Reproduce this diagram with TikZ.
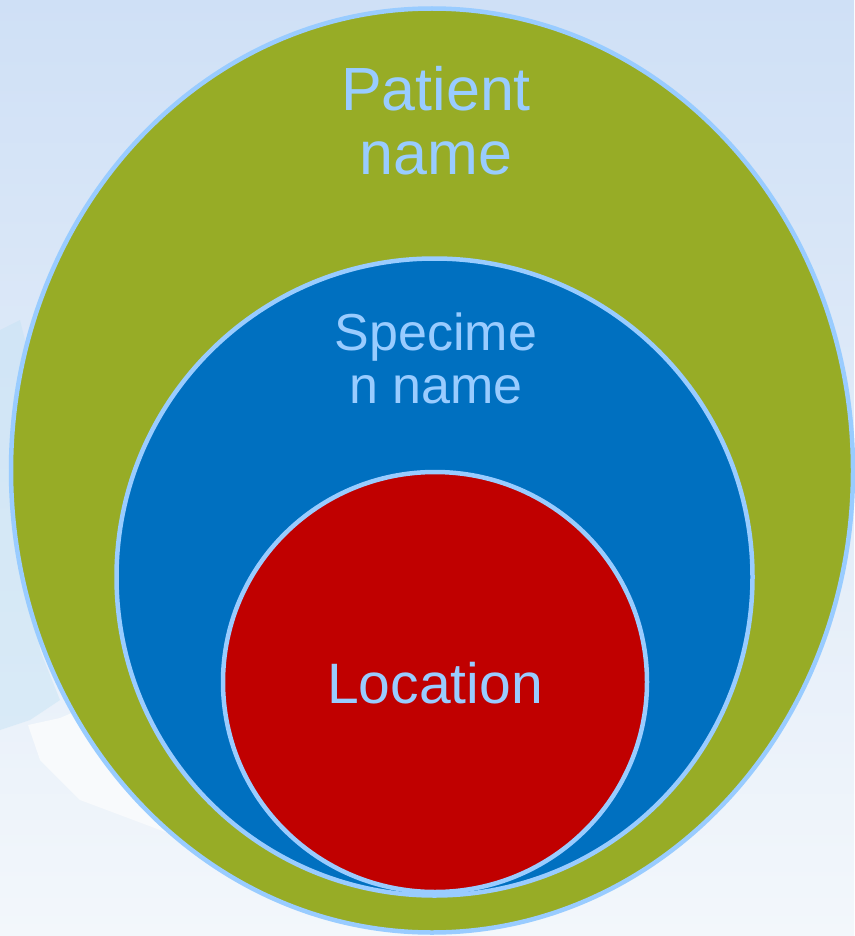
\documentclass[tikz,border=0pt]{standalone}
\usepackage{fontspec}
\setmainfont{Liberation Sans}
\usetikzlibrary{shapes.geometric}
\definecolor{bgtop}{HTML}{CFE0F6}
\definecolor{bgbot}{HTML}{F3F7FB}
\definecolor{cloud}{HTML}{F8FAFC}
\definecolor{ice}{HTML}{C4E2F4}
\definecolor{rim}{HTML}{99CCFF}
\definecolor{olive}{HTML}{97AC26}
\definecolor{deepblue}{HTML}{0070C0}
\definecolor{deepred}{HTML}{C00000}
\tikzset{
  ring/.style={ellipse, draw=rim, line width=4.5pt, inner sep=0pt},
  lbl/.style={text=rim, anchor=base, inner sep=0pt}
}
\begin{document}
\begin{tikzpicture}[x=1pt,y=-1pt]
\useasboundingbox (0,0) rectangle (854,936);
\shade[top color=bgtop, bottom color=bgbot] (0,0) rectangle (854,936);
% faint background shapes
\fill[ice, opacity=0.45] (0,330) -- (20,320) -- (30,360) -- (20,420) -- (28,520) -- (40,650) -- (60,700) -- (30,720) -- (0,730) -- cycle;
\fill[cloud] (28,725) -- (60,718) -- (90,705) -- (110,760) -- (140,805) -- (170,820) -- (200,830) -- (240,860) -- (160,830) -- (80,800) -- (40,760) -- cycle;
\node[ring, fill=olive, minimum width=842pt, minimum height=924pt] (outer) at (432,470.5) {};
\node[ring, fill=deepblue, minimum width=636pt, minimum height=637pt] (mid) at (434.5,577) {};
\node[ring, fill=deepred, minimum width=424pt, minimum height=420pt] (inner) at (435,682) {};
\node[lbl, font=\fontsize{61}{61}\selectfont] (p1) at (436,111) {Patient};
\node[lbl, font=\fontsize{61}{61}\selectfont] (p2) at (436,175) {name};
\node[lbl, font=\fontsize{52}{52}\selectfont] (s1) at (436,350) {Specime};
\node[lbl, font=\fontsize{52}{52}\selectfont] (s2) at (436,403) {n name};
\node[lbl, font=\fontsize{57}{57}\selectfont] (l1) at (435,703) {Location};
\end{tikzpicture}
\end{document}
